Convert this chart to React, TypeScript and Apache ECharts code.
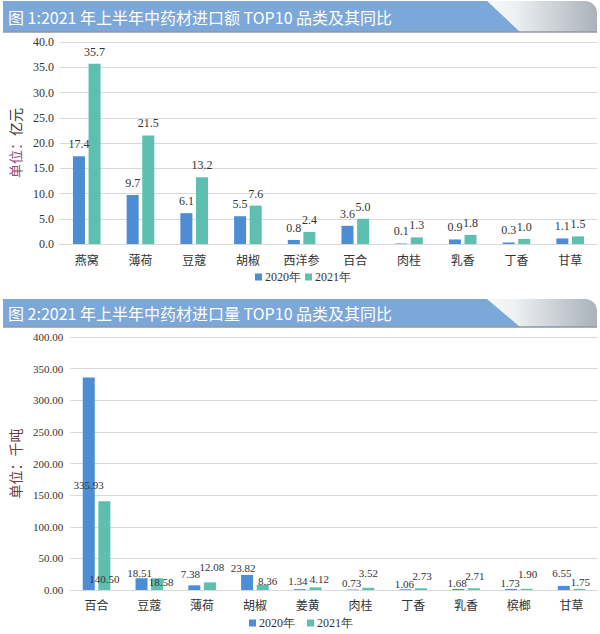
import React, { useEffect, useRef } from "react";
import * as echarts from "echarts";

const title1 = "图 1:2021 年上半年中药材进口额 TOP10 品类及其同比";
const title2 = "图 2:2021 年上半年中药材进口量 TOP10 品类及其同比";
const seriesNames = ["2020年", "2021年"];

const cats1 = ["燕窝", "薄荷", "豆蔻", "胡椒", "西洋参", "百合", "肉桂", "乳香", "丁香", "甘草"];
const val1_2020 = [17.4, 9.7, 6.1, 5.5, 0.8, 3.6, 0.1, 0.9, 0.3, 1.1];
const val1_2021 = [35.7, 21.5, 13.2, 7.6, 2.4, 5.0, 1.3, 1.8, 1.0, 1.5];

const cats2 = ["百合", "豆蔻", "薄荷", "胡椒", "姜黄", "肉桂", "丁香", "乳香", "槟榔", "甘草"];
const val2_2020 = [335.93, 18.51, 7.38, 23.82, 1.34, 0.73, 1.06, 1.68, 1.73, 6.55];
const val2_2021 = [140.5, 18.58, 12.08, 8.36, 4.12, 3.52, 2.73, 2.71, 1.9, 1.75];

// label nudges (style only) for chart 2, following the reference's hand-placed labels
const nudge2_2020 = [[0, 116], [-2, 3], [-4, -3], [-4, 2], [-2, 0], [-1, 2], [-1, 3], [-1, 3], [-1, 3], [-2, -4]];
const nudge2_2021 = [[0, 86], [4, 12], [2, -7], [5, 5], [4, 0], [0, -6], [1, -4], [1, -4], [1, -6], [1, 2]];

const BLUE = "#4C8DD3";
const GREEN = "#5DBFB0";
const GRID = "#D9D9D9";
const SERIF = "'Liberation Serif', 'DejaVu Serif', serif";
const CJK = "'Noto Sans CJK SC', sans-serif";

function banner(y0: number, h: number, text: string) {
  return [
    {
      type: "rect",
      shape: { x: 470, y: y0, width: 127, height: h, r: [0, 12, 0, 0] },
      style: {
        fill: new echarts.graphic.LinearGradient(0, 0, 1, 0, [
          { offset: 0, color: "#ffffff" },
          { offset: 0.35, color: "#eef0f2" },
          { offset: 1, color: "#a9b2bb" },
        ]),
      },
      z: 1,
    },
    {
      type: "polygon",
      shape: { points: [[3, y0], [487, y0], [520, y0 + h], [3, y0 + h]] },
      style: { fill: "#7BA7D9" },
      z: 2,
    },
    {
      type: "line",
      shape: { x1: 3, y1: y0 + h, x2: 597, y2: y0 + h },
      style: { stroke: "#8c98a4", lineWidth: 1.5 },
      z: 3,
    },
    {
      type: "text",
      x: 8,
      y: y0 + h / 2,
      style: {
        text,
        fill: "#ffffff",
        font: `16px ${CJK}`,
        verticalAlign: "middle",
        align: "left",
      },
      z: 4,
    },
  ];
}

export default function App() {
  const ref = useRef<HTMLDivElement>(null);

  useEffect(() => {
    if (!ref.current) return;
    const chart = echarts.init(ref.current, undefined, { renderer: "svg" });

    const catLabel = { color: "#333", fontFamily: CJK, fontSize: 12 };
    const numLabel = { color: "#333", fontFamily: SERIF, fontSize: 12 };
    const numLabel2 = { color: "#333", fontFamily: SERIF, fontSize: 11 };

    const mk2 = (vals: number[], nudges: number[][]) =>
      vals.map((v, i) => ({ value: v, label: { offset: nudges[i] } }));

    const option: any = {
      animation: false,
      backgroundColor: "#ffffff",
      graphic: [...banner(1, 31, title1), ...banner(299, 28, title2)],
      legend: [
        {
          data: seriesNames,
          left: 250,
          top: 266,
          itemWidth: 7,
          itemHeight: 7,
          itemGap: 4,
          icon: "rect",
          textStyle: { fontFamily: SERIF, fontSize: 12, color: "#333", padding: [0, 0, 0, -2] },
        },
        {
          data: seriesNames,
          left: 244,
          top: 612,
          itemWidth: 7,
          itemHeight: 7,
          itemGap: 12,
          icon: "rect",
          textStyle: { fontFamily: SERIF, fontSize: 12, color: "#333", padding: [0, 0, 0, -2] },
        },
      ],
      grid: [
        { left: 53, right: 3, top: 42, height: 202 },
        { left: 62, right: 2, top: 337, height: 253 },
      ],
      xAxis: [
        {
          type: "category",
          gridIndex: 0,
          data: cats1,
          axisLine: { lineStyle: { color: GRID, width: 1 } },
          axisTick: { show: false },
          axisLabel: { ...catLabel, margin: 9 },
        },
        {
          type: "category",
          gridIndex: 1,
          data: cats2,
          axisLine: { lineStyle: { color: GRID, width: 1 } },
          axisTick: { show: false },
          axisLabel: { ...catLabel, margin: 8 },
        },
      ],
      yAxis: [
        {
          type: "value",
          gridIndex: 0,
          min: 0,
          max: 40,
          interval: 5,
          axisLine: { show: false },
          axisTick: { show: false },
          splitLine: { lineStyle: { color: GRID, width: 1 } },
          axisLabel: { ...numLabel, margin: 6, formatter: (v: number) => v.toFixed(1) },
          name: "{a|单位：}{b|亿元}",
          nameLocation: "middle",
          nameRotate: 90,
          nameGap: 36,
          nameTextStyle: {
            rich: {
              a: { color: "#8C4F78", fontFamily: CJK, fontSize: 14 },
              b: { color: "#333", fontFamily: CJK, fontSize: 14 },
            },
          },
        },
        {
          type: "value",
          gridIndex: 1,
          min: 0,
          max: 400,
          interval: 50,
          axisLine: { show: false },
          axisTick: { show: false },
          splitLine: { lineStyle: { color: GRID, width: 1 } },
          axisLabel: { ...numLabel, fontSize: 11, margin: 7, formatter: (v: number) => v.toFixed(2) },
          name: "单位：千吨",
          nameLocation: "middle",
          nameRotate: 90,
          nameGap: 48,
          nameTextStyle: { color: "#6B3A44", fontFamily: CJK, fontSize: 14 },
        },
      ],
      series: [
        {
          name: seriesNames[0],
          type: "bar",
          xAxisIndex: 0,
          yAxisIndex: 0,
          data: val1_2020,
          barWidth: 12,
          barGap: "30%",
          itemStyle: { color: BLUE },
          label: { show: true, position: "top", distance: 6, ...numLabel, formatter: (p: any) => Number(p.value).toFixed(1) },
        },
        {
          name: seriesNames[1],
          type: "bar",
          xAxisIndex: 0,
          yAxisIndex: 0,
          data: val1_2021,
          barWidth: 12,
          barGap: "30%",
          itemStyle: { color: GREEN },
          label: { show: true, position: "top", distance: 6, ...numLabel, formatter: (p: any) => Number(p.value).toFixed(1) },
        },
        {
          name: seriesNames[0],
          type: "bar",
          xAxisIndex: 1,
          yAxisIndex: 1,
          data: mk2(val2_2020, nudge2_2020),
          barWidth: 12,
          barGap: "30%",
          itemStyle: { color: BLUE },
          label: { show: true, position: "top", distance: 3, ...numLabel2, formatter: (p: any) => Number(p.value).toFixed(2) },
        },
        {
          name: seriesNames[1],
          type: "bar",
          xAxisIndex: 1,
          yAxisIndex: 1,
          data: mk2(val2_2021, nudge2_2021),
          barWidth: 12,
          barGap: "30%",
          itemStyle: { color: GREEN },
          label: { show: true, position: "top", distance: 3, ...numLabel2, formatter: (p: any) => Number(p.value).toFixed(2) },
        },
      ],
    };

    chart.setOption(option);
    return () => chart.dispose();
  }, []);

  return (
    <div
      ref={ref}
      style={{ position: "fixed", left: 0, top: 0, width: 600, height: 634, background: "#fff" }}
    />
  );
}
